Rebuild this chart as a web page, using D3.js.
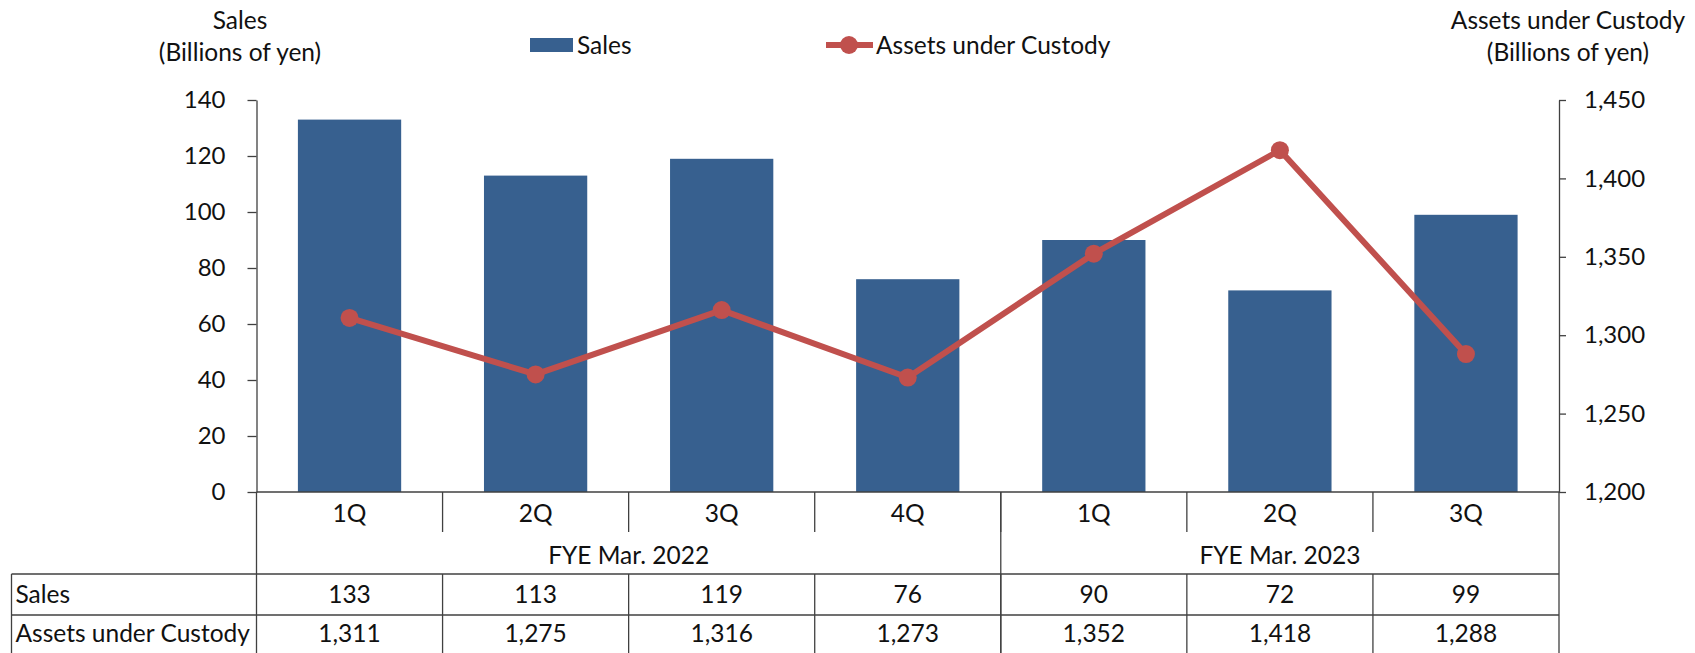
<!DOCTYPE html>
<html>
<head>
<meta charset="utf-8">
<script src="https://cdn.jsdelivr.net/npm/d3@7"></script>
<style>
  body { margin: 0; background: #fff; }
  svg text { font-family: Lato, "Open Sans", sans-serif; fill: #111; }
</style>
</head>
<body>
<div id="chart"></div>
<script>
const quarters = ["1Q", "2Q", "3Q", "4Q", "1Q", "2Q", "3Q"];
const fiscalYears = ["FYE Mar. 2022", "FYE Mar. 2023"];
const quartersPerYear = [4, 3];
const sales = [133, 113, 119, 76, 90, 72, 99];
const assets = [1311, 1275, 1316, 1273, 1352, 1418, 1288];
const salesTicks = [0, 20, 40, 60, 80, 100, 120, 140];
const assetTicks = [1200, 1250, 1300, 1350, 1400, 1450];

const width = 1695, height = 653;
const plotLeft = 256.5, plotRight = 1559, plotTop = 100, plotBottom = 492;
const fontSize = 24.5;
const barColor = "#37608f";
const lineColor = "#c0504d";
const axisColor = "#404040";

const svg = d3.select("#chart").append("svg")
    .attr("width", width)
    .attr("height", height);

const idx = quarters.map((d, i) => i);
const x = d3.scaleBand().domain(idx).range([plotLeft, plotRight]).padding(0);
const y = d3.scaleLinear().domain([0, 140]).range([plotBottom, plotTop]);
const y2 = d3.scaleLinear().domain([1200, 1450]).range([plotBottom, plotTop]);
const barW = x.bandwidth() * 0.555;

// bars
svg.selectAll(".bar")
    .data(sales)
    .enter().append("rect")
    .attr("class", "bar")
    .attr("x", (d, i) => x(i) + (x.bandwidth() - barW) / 2)
    .attr("y", d => y(d))
    .attr("width", barW)
    .attr("height", d => y(0) - y(d))
    .attr("fill", barColor);

// left axis
const yAxis = d3.axisLeft(y).tickValues(salesTicks).tickSize(9).tickSizeOuter(0).tickPadding(22);
const gy = svg.append("g")
    .attr("transform", `translate(${plotLeft},0)`)
    .call(yAxis);

// right axis
const y2Axis = d3.axisRight(y2).tickValues(assetTicks).tickSize(7).tickSizeOuter(0).tickPadding(18)
    .tickFormat(d3.format(","));
const gy2 = svg.append("g")
    .attr("transform", `translate(${plotRight},0)`)
    .call(y2Axis);

[gy, gy2].forEach(g => {
    g.selectAll("path, line").attr("stroke", axisColor).attr("stroke-width", 1.3);
    g.selectAll("text").style("font-size", "24px").attr("fill", "#111");
});

// baseline
svg.append("line")
    .attr("x1", plotLeft).attr("x2", plotRight)
    .attr("y1", plotBottom).attr("y2", plotBottom)
    .attr("stroke", axisColor).attr("stroke-width", 1.3);

// line series
const line = d3.line()
    .x((d, i) => x(i) + x.bandwidth() / 2)
    .y(d => y2(d));

svg.append("path")
    .datum(assets)
    .attr("d", line)
    .attr("fill", "none")
    .attr("stroke", lineColor)
    .attr("stroke-width", 6)
    .attr("stroke-linejoin", "round");

svg.selectAll(".dot")
    .data(assets)
    .enter().append("circle")
    .attr("class", "dot")
    .attr("cx", (d, i) => x(i) + x.bandwidth() / 2)
    .attr("cy", d => y2(d))
    .attr("r", 9)
    .attr("fill", lineColor);

// category axis and data table
const tableLeft = 11.5;
const rowTop = 574, rowMid = 615, rowBottom = 660;
const qTickBottom = 532;
const grid = svg.append("g")
    .attr("stroke", axisColor)
    .attr("stroke-width", 1.3);

// quarter separators
idx.slice(1).forEach(i => {
    grid.append("line")
        .attr("x1", x(i)).attr("x2", x(i))
        .attr("y1", plotBottom).attr("y2", qTickBottom);
});

// year separators and outer lines running through the table
let cum = 0;
const yearEdges = [0];
quartersPerYear.forEach(n => { cum += n; yearEdges.push(cum); });
yearEdges.forEach(k => {
    const xe = k < quarters.length ? x(k) : plotRight;
    grid.append("line")
        .attr("x1", xe).attr("x2", xe)
        .attr("y1", plotBottom).attr("y2", rowBottom);
});
// quarter separators inside table rows
idx.slice(1).forEach(i => {
    grid.append("line")
        .attr("x1", x(i)).attr("x2", x(i))
        .attr("y1", rowTop).attr("y2", rowBottom);
});
grid.append("line").attr("x1", tableLeft).attr("x2", tableLeft).attr("y1", rowTop).attr("y2", rowBottom);
[rowTop, rowMid].forEach(yy => {
    grid.append("line").attr("x1", tableLeft).attr("x2", plotRight).attr("y1", yy).attr("y2", yy);
});

// quarter labels
svg.selectAll(".qlabel")
    .data(quarters)
    .enter().append("text")
    .attr("x", (d, i) => x(i) + x.bandwidth() / 2)
    .attr("y", 513)
    .attr("dy", "0.35em")
    .attr("text-anchor", "middle")
    .style("font-size", fontSize + "px")
    .text(d => d);

// fiscal year labels
svg.selectAll(".ylabel")
    .data(fiscalYears)
    .enter().append("text")
    .attr("x", (d, i) => {
        const a = x(yearEdges[i]);
        const b = yearEdges[i + 1] < quarters.length ? x(yearEdges[i + 1]) : plotRight;
        return (a + b) / 2;
    })
    .attr("y", 555)
    .attr("dy", "0.35em")
    .attr("text-anchor", "middle")
    .style("font-size", fontSize + "px")
    .text(d => d);

// table rows
const rows = [
    { label: "Sales", values: sales, y: (rowTop + rowMid) / 2 },
    { label: "Assets under Custody", values: assets, y: 633 }
];
rows.forEach(r => {
    svg.append("text")
        .attr("x", tableLeft + 4)
        .attr("y", r.y)
        .attr("dy", "0.35em")
        .style("font-size", fontSize + "px")
        .text(r.label);
    svg.selectAll(null)
        .data(r.values)
        .enter().append("text")
        .attr("x", (d, i) => x(i) + x.bandwidth() / 2)
        .attr("y", r.y)
        .attr("dy", "0.35em")
        .attr("text-anchor", "middle")
        .style("font-size", fontSize + "px")
        .text(d => d3.format(",")(d));
});

// axis titles
const titles = [
    { lines: ["Sales", "(Billions of yen)"], x: 240 },
    { lines: ["Assets under Custody", "(Billions of yen)"], x: 1568 }
];
titles.forEach(t => {
    t.lines.forEach((s, i) => {
        svg.append("text")
            .attr("x", t.x)
            .attr("y", i === 0 ? 20 : 52)
            .attr("dy", "0.35em")
            .attr("text-anchor", "middle")
            .style("font-size", fontSize + "px")
            .text(s);
    });
});

// legend
const legend = svg.append("g");
legend.append("rect")
    .attr("x", 530).attr("y", 38)
    .attr("width", 43).attr("height", 14)
    .attr("fill", barColor);
legend.append("text")
    .attr("x", 577).attr("y", 45)
    .attr("dy", "0.35em")
    .style("font-size", fontSize + "px")
    .text("Sales");
legend.append("line")
    .attr("x1", 826).attr("x2", 873)
    .attr("y1", 45).attr("y2", 45)
    .attr("stroke", lineColor).attr("stroke-width", 6);
legend.append("circle")
    .attr("cx", 849).attr("cy", 45).attr("r", 9)
    .attr("fill", lineColor);
legend.append("text")
    .attr("x", 876).attr("y", 45)
    .attr("dy", "0.35em")
    .style("font-size", fontSize + "px")
    .text("Assets under Custody");
</script>
</body>
</html>
